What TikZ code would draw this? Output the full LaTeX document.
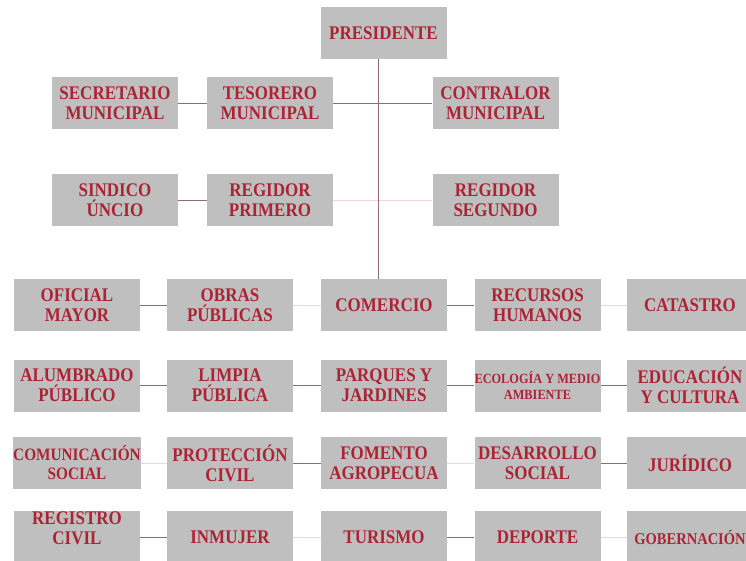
\documentclass[tikz,border=0pt]{standalone}
\usepackage{fontspec}
\setmainfont{Liberation Serif}[FakeStretch=0.88]
\definecolor{boxgray}{RGB}{191,191,191}
\definecolor{txtred}{RGB}{172,36,52}
\definecolor{darkline}{RGB}{140,110,106}
\definecolor{faintline}{RGB}{240,214,214}
\begin{document}
\begin{tikzpicture}[x=1pt,y=-1pt,
  box/.style={fill=boxgray,draw=none,minimum width=126pt,minimum height=52pt,inner sep=0pt,
    align=center,text=txtred,font=\fontsize{19.3}{20}\selectfont\bfseries},
  dk/.style={draw=darkline,line width=1pt},
  ft/.style={draw=faintline,line width=1pt}]
\clip (0,0) rectangle (746,560);
\fill[white] (0,0) rectangle (746,560);
% top
\node[box] (pres) at (383.5,33) {PRESIDENTE};
\node[box] (sec) at (115,103) {SECRETARIO\\MUNICIPAL};
\node[box] (tes) at (270,103) {TESORERO\\MUNICIPAL};
\node[box] (con) at (495.5,103) {CONTRALOR\\MUNICIPAL};
\node[box] (sin) at (115,200) {SINDICO\\ÚNCIO};
\node[box] (rp) at (270,200) {REGIDOR\\PRIMERO};
\node[box] (rs) at (495.5,200) {REGIDOR\\SEGUNDO};
% row 3
\node[box] (ofi) at (77,305) {OFICIAL\\MAYOR};
\node[box] (obr) at (230,305) {OBRAS\\PÚBLICAS};
\node[box] (com) at (384,305) {COMERCIO};
\node[box] (rec) at (537.5,305) {RECURSOS\\HUMANOS};
\node[box] (cat) at (690,305) {CATASTRO};
% row 4
\node[box] (alu) at (77,385.5) {ALUMBRADO\\PÚBLICO};
\node[box] (lim) at (230,385.5) {LIMPIA\\PÚBLICA};
\node[box] (par) at (384,385.5) {PARQUES Y\\JARDINES};
\node[box,font=\fontsize{14}{16}\selectfont\bfseries] (eco) at (537.5,385.5) {ECOLOGÍA Y MEDIO\\AMBIENTE};
\node[box] (edu) at (690,385.5) {EDUCACIÓN\\Y CULTURA};
% row 5
\node[box,font=\fontsize{17.4}{19}\selectfont\bfseries] (cmu) at (77,463) {COMUNICACIÓN\\SOCIAL};
\node[box] (pro) at (230,463) {PROTECCIÓN\\CIVIL};
\node[box] (fom) at (384,463) {FOMENTO\\AGROPECUA};
\node[box] (des) at (537.5,463) {DESARROLLO\\SOCIAL};
\node[box] (jur) at (690,463) {JURÍDICO};
% row 6
\node[box] (reg) at (77,537) {};
\node[text=txtred,align=center,font=\fontsize{19.3}{20}\selectfont\bfseries,inner sep=0pt] (regt) at (77,528) {REGISTRO\\CIVIL};
\node[box] (inm) at (230,537) {INMUJER};
\node[box] (tur) at (384,537) {TURISMO};
\node[box] (dep) at (537.5,537) {DEPORTE};
\node[box,font=\fontsize{16.5}{18}\selectfont\bfseries] (gob) at (690,537) {GOBERNACIÓN};
% connectors
\draw[dk] (sec) -- (tes);
\draw[dk] (tes) -- (con);
\draw[dk] (sin) -- (rp);
\draw[ft] (rp) -- (rs);
\draw[dk] ([xshift=-5.5pt]pres.south) -- ([xshift=-6pt]com.north);
\draw[dk] (ofi) -- (obr);
\draw[ft] (obr) -- (com);
\draw[dk] (com) -- (rec);
\draw[ft] (rec) -- (cat);
\draw[dk] (alu) -- (lim);
\draw[dk] (lim) -- (par);
\draw[dk] (par) -- (eco);
\draw[dk] (eco) -- (edu);
\draw[ft] (cmu) -- (pro);
\draw[dk] (pro) -- (fom);
\draw[ft] (fom) -- (des);
\draw[dk] (des) -- (jur);
\draw[dk] (reg) -- (inm);
\draw[ft] (inm) -- (tur);
\draw[dk] (tur) -- (dep);
\draw[ft] (dep) -- (gob);
\end{tikzpicture}
\end{document}
